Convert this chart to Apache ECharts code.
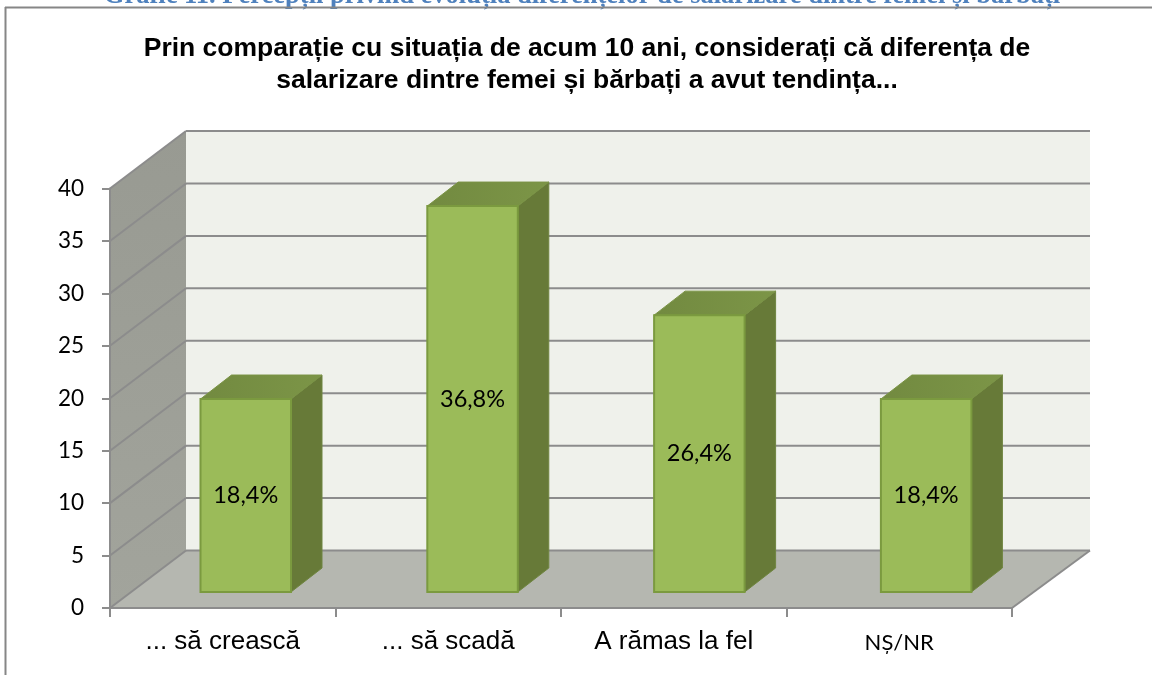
<!DOCTYPE html>
<html><head><meta charset="utf-8">
<style>html,body{margin:0;padding:0;background:#fff}#c{width:1152px;height:675px}</style>
<script src="https://cdn.jsdelivr.net/npm/echarts@6/dist/echarts.min.js"></script>
</head><body><div id="c"></div>
<script>
const categories = ['... să crească', '... să scadă', 'A rămas la fel', 'NȘ/NR'];
const values = [18.4, 36.8, 26.4, 18.4];
const yTicks = [0, 5, 10, 15, 20, 25, 30, 35, 40];
const captionText = 'Grafic 11. Percepții privind evoluția diferențelor de salarizare dintre femei și bărbați';
const titleText = 'Prin comparație cu situația de acum 10 ani, considerați că diferența de\nsalarizare dintre femei și bărbați a avut tendința...';

const WALL_DX = 76, WALL_DX_R = 78, WALL_DY = -57.5;
const BAR_W = 90.5, BAR_SHIFT_X = 23, BAR_DRIFT = 1.3, BAR_SHIFT_Y = -16, BAR_DX = 31, BAR_DY = -24;
const LINE = '#8c8c8c';

function poly(points, fill, z2) {
  return { type: 'polygon', shape: { points }, style: fill, z2: z2 || 0 };
}
function seg(a, b) {
  return { type: 'line', shape: { x1: a[0], y1: a[1], x2: b[0], y2: b[1] }, style: { stroke: LINE, lineWidth: 2 }, z2: 3 };
}
function renderFrame(params, api) {
  const catW = api.size([1, 0])[0];
  const x0 = api.coord([0, 0])[0] - catW / 2;
  const x1 = x0 + catW * categories.length;
  const y0 = api.coord([0, 0])[1];
  const yTop = api.coord([0, yTicks[yTicks.length - 1]])[1];
  const bx0 = x0 + WALL_DX, bx1 = x1 + WALL_DX_R;
  const children = [
    poly([[bx0, yTop + WALL_DY], [bx1, yTop + WALL_DY], [bx1, y0 + WALL_DY], [bx0, y0 + WALL_DY]], { fill: '#eff1eb' }),
    poly([[x0, yTop], [bx0, yTop + WALL_DY], [bx0, y0 + WALL_DY], [x0, y0]], {
      fill: { type: 'linear', x: 0, y: 0, x2: 0, y2: 1, colorStops: [{ offset: 0, color: '#989a92' }, { offset: 1, color: '#a2a49c' }] }
    }),
    poly([[x0, y0], [x1, y0], [bx1, y0 + WALL_DY], [bx0, y0 + WALL_DY]], { fill: '#b5b7b0' })
  ];
  yTicks.forEach(t => {
    const y = api.coord([0, t])[1];
    children.push(seg([x0, y], [bx0, y + WALL_DY]));
    children.push(seg([bx0, y + WALL_DY], [bx1, y + WALL_DY]));
  });
  children.push(seg([x1, y0], [bx1, y0 + WALL_DY]));
  return { type: 'group', children };
}
function renderBar(params, api) {
  const i = api.value(0), v = api.value(1);
  const c = api.coord([i, v]), b = api.coord([i, 0]);
  const xl = c[0] + BAR_SHIFT_X + BAR_DRIFT * i - BAR_W / 2, xr = xl + BAR_W;
  const yt = c[1] + BAR_SHIFT_Y, yb = b[1] + BAR_SHIFT_Y;
  return {
    type: 'group',
    children: [
      poly([[xr, yt], [xr + BAR_DX, yt + BAR_DY], [xr + BAR_DX, yb + BAR_DY], [xr, yb]], { fill: '#677a38', stroke: '#6f8540', lineWidth: 1 }),
      poly([[xl, yt], [xl + BAR_DX, yt + BAR_DY], [xr + BAR_DX, yt + BAR_DY], [xr, yt]], {
        fill: { type: 'linear', x: 0, y: 0, x2: 1, y2: 0, colorStops: [{ offset: 0, color: '#728a40' }, { offset: 1, color: '#7c9547' }] },
        stroke: '#7a9345', lineWidth: 1
      }),
      { type: 'rect', shape: { x: xl, y: yt, width: BAR_W, height: yb - yt }, style: { fill: '#9bbb59', stroke: '#7b9a3f', lineWidth: 2 } },
      { type: 'text', x: (xl + xr) / 2, y: (yt + yb) / 2, z2: 5,
        style: { text: v.toFixed(1).replace('.', ',') + '%', fill: '#000', font: '23.5px Lato', align: 'center', verticalAlign: 'middle' } }
    ]
  };
}

const chart = echarts.init(document.getElementById('c'), null, { renderer: 'canvas' });
chart.setOption({
  animation: false,
  backgroundColor: '#fff',
  title: [{
    text: titleText, left: 582, top: 28, textAlign: 'center',
    textStyle: { fontFamily: 'Liberation Sans', fontWeight: 'bold', fontSize: 26.5, lineHeight: 32, color: '#000' }
  }],
  grid: { left: 110, top: 188.5, width: 902, height: 419.5, containLabel: false },
  xAxis: {
    type: 'category', data: categories, z: 5,
    axisLine: { lineStyle: { color: LINE, width: 2 } },
    axisTick: { show: true, length: 9, lineStyle: { color: LINE, width: 2 } },
    axisLabel: {
      margin: 21, interval: 0, color: '#000',
      formatter: v => v === 'NȘ/NR' ? '{n|' + v + '}' : '{a|' + v + '}',
      rich: {
        a: { fontFamily: 'Liberation Sans', fontSize: 26, color: '#000' },
        n: { fontFamily: 'Lato', fontSize: 22, color: '#000', padding: [3, 0, 0, 0] }
      }
    }
  },
  yAxis: {
    type: 'value', min: 0, max: 40, interval: 5, z: 5,
    axisLine: { show: true, lineStyle: { color: LINE, width: 2 } },
    axisTick: { show: true, length: 8, lineStyle: { color: LINE, width: 2 } },
    splitLine: { show: false },
    axisLabel: { margin: 26, color: '#000', fontFamily: 'Lato', fontSize: 22.5 }
  },
  series: [
    { type: 'custom', z: 1, clip: false, silent: true, renderItem: renderFrame, data: [[0, 0]], encode: { x: 0, y: 1 } },
    { type: 'custom', z: 2, clip: false, silent: true, renderItem: renderBar, data: values.map((v, i) => [i, v]), encode: { x: 0, y: 1 } }
  ],
  graphic: [
    { type: 'text', x: 582, y: 10, z: 10, style: { text: captionText, fill: '#4f81bd', font: 'bold 26.5px "Liberation Serif"', align: 'center', verticalAlign: 'bottom' } },
    { type: 'line', z: 11, shape: { x1: 5, y1: 7.5, x2: 1152, y2: 7.5 }, style: { stroke: '#868686', lineWidth: 2 } },
    { type: 'line', z: 11, shape: { x1: 5.5, y1: 7, x2: 5.5, y2: 675 }, style: { stroke: '#868686', lineWidth: 2 } }
  ]
});
</script></body></html>
